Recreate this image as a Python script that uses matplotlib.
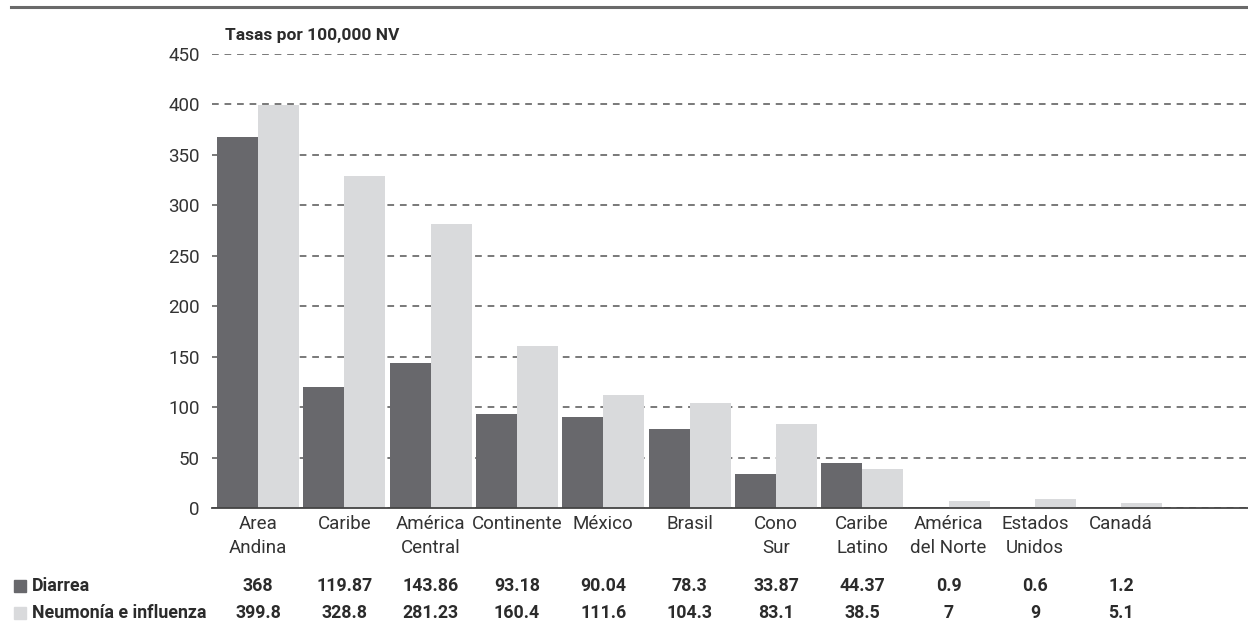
import numpy as np
import matplotlib
matplotlib.use("Agg")
import matplotlib.pyplot as plt
import matplotlib.transforms as mtransforms
from matplotlib.patches import Rectangle

# ── Data ──────────────────────────────────────────────────────────────────────
categories = ["Area\nAndina", "Caribe", "América\nCentral", "Continente", "México",
              "Brasil", "Cono\nSur", "Caribe\nLatino", "América\ndel Norte",
              "Estados\nUnidos", "Canadá"]
diarrea = [368, 119.87, 143.86, 93.18, 90.04, 78.3, 33.87, 44.37, 0.9, 0.6, 1.2]
neumonia = [399.8, 328.8, 281.23, 160.4, 111.6, 104.3, 83.1, 38.5, 7, 9, 5.1]
diarrea_txt = ["368", "119.87", "143.86", "93.18", "90.04", "78.3", "33.87",
               "44.37", "0.9", "0.6", "1.2"]
neumonia_txt = ["399.8", "328.8", "281.23", "160.4", "111.6", "104.3", "83.1",
                "38.5", "7", "9", "5.1"]
series_names = ["Diarrea", "Neumonía e influenza"]
yticks = [0, 50, 100, 150, 200, 250, 300, 350, 400, 450]

# ── Style ─────────────────────────────────────────────────────────────────────
DARK = "#68686c"
LIGHT = "#d9dadc"
TXT = "#2b2b2b"
plt.rcParams["font.family"] = ["Roboto", "DejaVu Sans"]

fig = plt.figure(figsize=(12.48, 6.39), dpi=100)
ax = fig.add_axes([0.170, 0.205, 0.830, 0.7105])

x = np.arange(len(categories))
w = 0.475
ax.bar(x - w / 2, diarrea, width=w, color=DARK, zorder=3)
ax.bar(x + w / 2, neumonia, width=w, color=LIGHT, zorder=3)

ax.set_xlim(-0.533, 11.47)
ax.set_ylim(0, 450)
ax.set_yticks(yticks)
ax.set_xticks(x)
ax.set_xticklabels(categories, fontsize=13.5, color="#333333", linespacing=1.43)
ax.tick_params(axis="both", length=0, labelsize=13.5, labelcolor="#333333")
ax.tick_params(axis="y", pad=9)
ax.tick_params(axis="x", pad=5)

ax.yaxis.grid(True, color="#555555", linewidth=1.1, linestyle=(0, (4.4, 3.8)),
              zorder=1)
ax.set_axisbelow(True)
for s in ["left", "right", "top"]:
    ax.spines[s].set_visible(False)
ax.spines["bottom"].set_color("#444444")
ax.spines["bottom"].set_linewidth(1.3)
ax.spines["bottom"].set_zorder(4)

# title above axis
fig.text(225 / 1248, 0.945, "Tasas por 100,000 NV", fontsize=12.5,
         fontweight="bold", color=TXT, ha="left", va="center")

# top rule
fig.add_artist(plt.Line2D([11 / 1248, 1.0], [0.989, 0.989], color="#6a6a6a",
                          linewidth=2.2))

# ── Data table below chart ────────────────────────────────────────────────────
trans = mtransforms.blended_transform_factory(ax.transData, fig.transFigure)
row_y = [0.083, 0.041]
for ry, name, col, vals in zip(row_y, series_names, [DARK, LIGHT],
                               [diarrea_txt, neumonia_txt]):
    fig.add_artist(Rectangle((14 / 1248, ry - 6 / 639), 12 / 1248, 12 / 639,
                             transform=fig.transFigure, color=col))
    fig.text(32 / 1248, ry, name, fontsize=12.8, fontweight="bold", color=TXT,
             ha="left", va="center")
    for xi, v in zip(x, vals):
        ax.text(xi, ry, v, transform=trans, fontsize=12.8, fontweight="bold",
                color=TXT, ha="center", va="center")

fig.savefig("out.png", dpi=100)
